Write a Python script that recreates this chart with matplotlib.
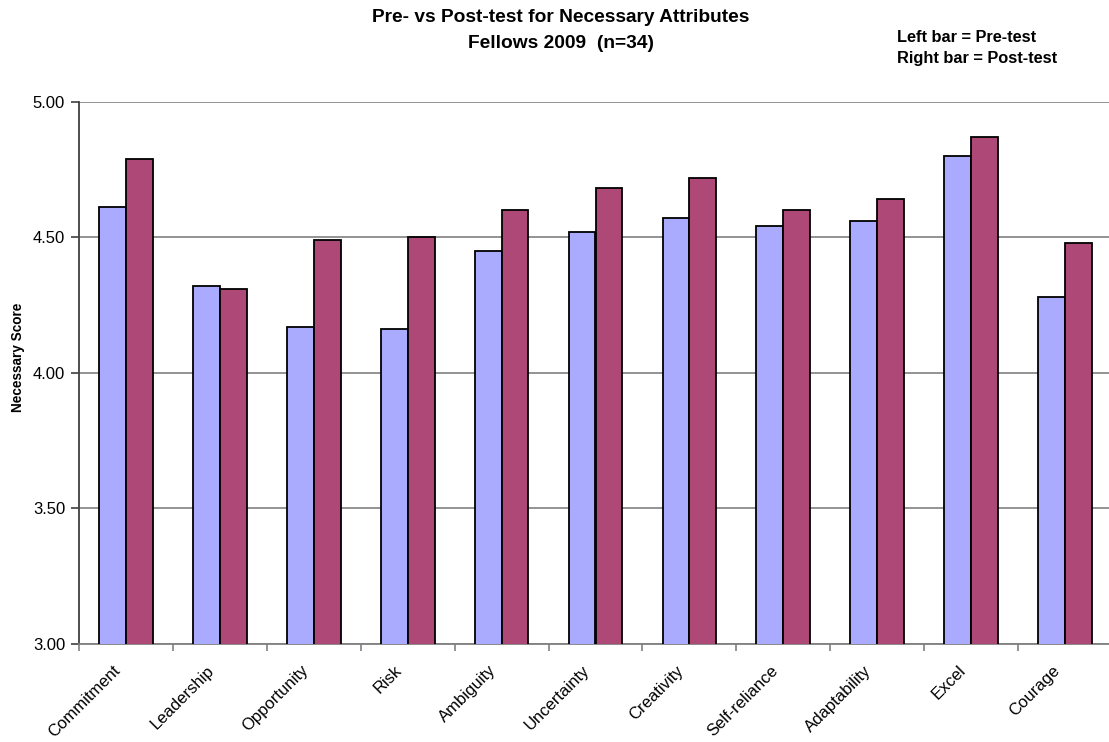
import matplotlib
matplotlib.use("Agg")
import matplotlib.pyplot as plt
import matplotlib.transforms as mtransforms
import numpy as np

plt.rcParams['font.family'] = ['Liberation Sans', 'DejaVu Sans']

categories = ["Commitment", "Leadership", "Opportunity", "Risk", "Ambiguity",
              "Uncertainty", "Creativity", "Self-reliance", "Adaptability",
              "Excel", "Courage"]
pre_test = [4.61, 4.32, 4.17, 4.16, 4.45, 4.52, 4.57, 4.54, 4.56, 4.80, 4.28]
post_test = [4.79, 4.31, 4.49, 4.50, 4.60, 4.68, 4.72, 4.60, 4.64, 4.87, 4.48]
y_ticks = [3.00, 3.50, 4.00, 4.50, 5.00]

W, H = 1109, 742
fig = plt.figure(figsize=(W / 100, H / 100), dpi=100)
ax = fig.add_axes([79 / W, (H - 644) / H, (1112 - 79) / W, (644 - 101.7) / H])

x = np.arange(len(categories))
bw = 1 / 3.5
ax.bar(x - bw / 2, pre_test, width=bw, color="#AAAAFF",
       edgecolor="black", linewidth=1.3, zorder=3)
ax.bar(x + bw / 2, post_test, width=bw, color="#AE4876",
       edgecolor="black", linewidth=1.3, zorder=3)

ax.set_ylim(3.0, 5.0)
ax.set_xlim(-0.5, len(categories) - 0.5)
ax.set_yticks(y_ticks)
ax.set_yticklabels([f"{v:.2f}" for v in y_ticks], fontsize=12)
ax.yaxis.grid(True, color="#808080", linewidth=1.2, zorder=0)
ax.set_axisbelow(True)

# tick marks on the category boundaries, names drawn under each group
ax.set_xticks(np.arange(len(categories) + 1) - 0.5)
ax.set_xticklabels([])
ax.tick_params(axis="x", length=5, width=1.2, color="#808080", direction="out")
ax.tick_params(axis="y", length=6, width=1.2, color="#404040", direction="out", pad=4)

label_tf = ax.get_xaxis_transform() + mtransforms.ScaledTranslation(
    -0.08, -0.24, fig.dpi_scale_trans)
for xi, name in zip(x, categories):
    ax.text(xi, 0, name, transform=label_tf, rotation=45, ha="right",
            va="center", rotation_mode="anchor", fontsize=12, clip_on=False)

for s in ("top", "right"):
    ax.spines[s].set_visible(False)
ax.spines["left"].set_color("#404040")
ax.spines["left"].set_linewidth(1.3)
ax.spines["bottom"].set_color("#808080")
ax.spines["bottom"].set_linewidth(1.3)

fig.text(18 / W, 1 - 357 / H, "Necessary Score", rotation=90,
         ha="center", va="center", fontsize=9.8, fontweight="bold")

fig.text(561 / W, 1 - 18 / H, "Pre- vs Post-test for Necessary Attributes",
         ha="center", va="center", fontsize=13.8, fontweight="bold")
fig.text(561 / W, 1 - 44 / H, "Fellows 2009  (n=34)",
         ha="center", va="center", fontsize=13.8, fontweight="bold")
fig.text(897 / W, 1 - 37 / H, "Left bar = Pre-test",
         ha="left", va="center", fontsize=11.8, fontweight="bold")
fig.text(897 / W, 1 - 58 / H, "Right bar = Post-test",
         ha="left", va="center", fontsize=11.8, fontweight="bold")

fig.savefig("out.png", dpi=100, facecolor="white")
